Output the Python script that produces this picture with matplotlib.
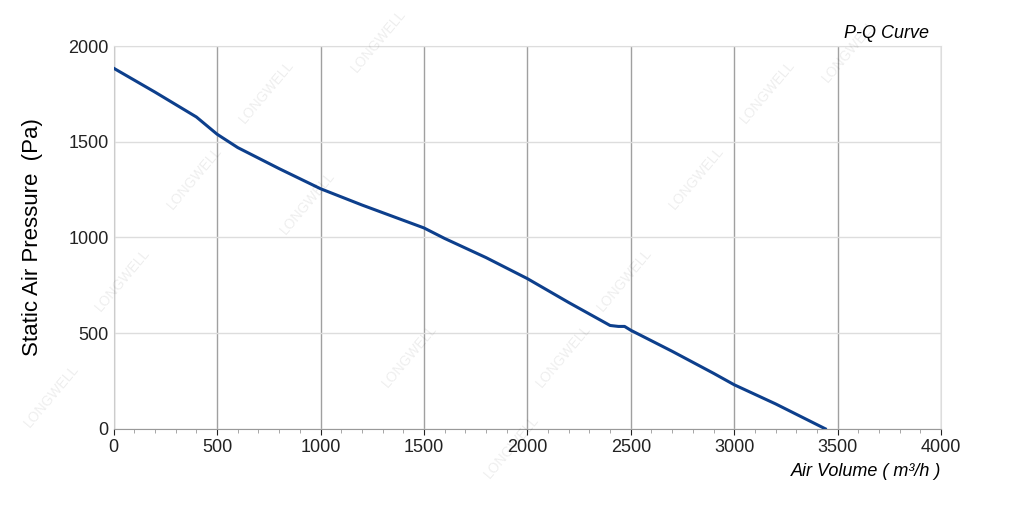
import matplotlib.pyplot as plt
from matplotlib.ticker import MultipleLocator

plt.rcParams['font.family'] = ['Liberation Sans', 'DejaVu Sans']

# P-Q curve data
air_volume = [0, 200, 400, 500, 600, 800, 1000, 1200, 1400, 1500, 1600, 1800,
              2000, 2200, 2400, 2440, 2470, 2500, 2700, 2900, 3000, 3200, 3440]
pressure = [1885, 1760, 1630, 1540, 1470, 1360, 1255, 1170, 1090, 1050, 995, 895,
            785, 660, 540, 535, 535, 515, 405, 290, 230, 130, 0]

fig = plt.figure(figsize=(10.24, 5.08), dpi=100)
ax = fig.add_axes([0.111, 0.156, 0.808, 0.753])

ax.plot(air_volume, pressure, color='#0d3f8c', lw=2.2, zorder=3)

ax.set_xlim(0, 4000)
ax.set_ylim(0, 2000)
ax.xaxis.set_major_locator(MultipleLocator(500))
ax.xaxis.set_minor_locator(MultipleLocator(100))
ax.yaxis.set_major_locator(MultipleLocator(500))
ax.grid(axis='x', color='#a0a0a0', lw=1)
ax.grid(axis='y', color='#dddddd', lw=1)
for s in ['top', 'right']:
    ax.spines[s].set_color('#dddddd')
ax.spines['left'].set_color('#cccccc')
ax.spines['bottom'].set_color('#999999')
ax.tick_params(axis='both', labelsize=13, colors='#222222', length=4)
ax.tick_params(axis='y', length=0)
ax.tick_params(which='minor', length=3, color='#999999')

ax.set_ylabel('Static Air Pressure  (Pa)', fontsize=16, labelpad=18)
ax.text(1.0, -0.09, 'Air Volume ( m³/h )', transform=ax.transAxes,
        ha='right', va='top', fontsize=13, style='italic')
ax.text(0.985, 1.01, 'P-Q Curve', transform=ax.transAxes,
        ha='right', va='bottom', fontsize=13, style='italic')

# faint watermarks
for x, y in [(0.05, 0.22), (0.12, 0.45), (0.19, 0.65), (0.26, 0.82), (0.37, 0.92),
             (0.5, 0.12), (0.55, 0.3), (0.61, 0.45), (0.68, 0.65), (0.75, 0.82),
             (0.83, 0.9), (0.4, 0.3), (0.3, 0.6)]:
    fig.text(x, y, 'LONGWELL', rotation=50, fontsize=10, color='#000000',
             alpha=0.07, ha='center', va='center')

fig.savefig('out.png', dpi=100)
